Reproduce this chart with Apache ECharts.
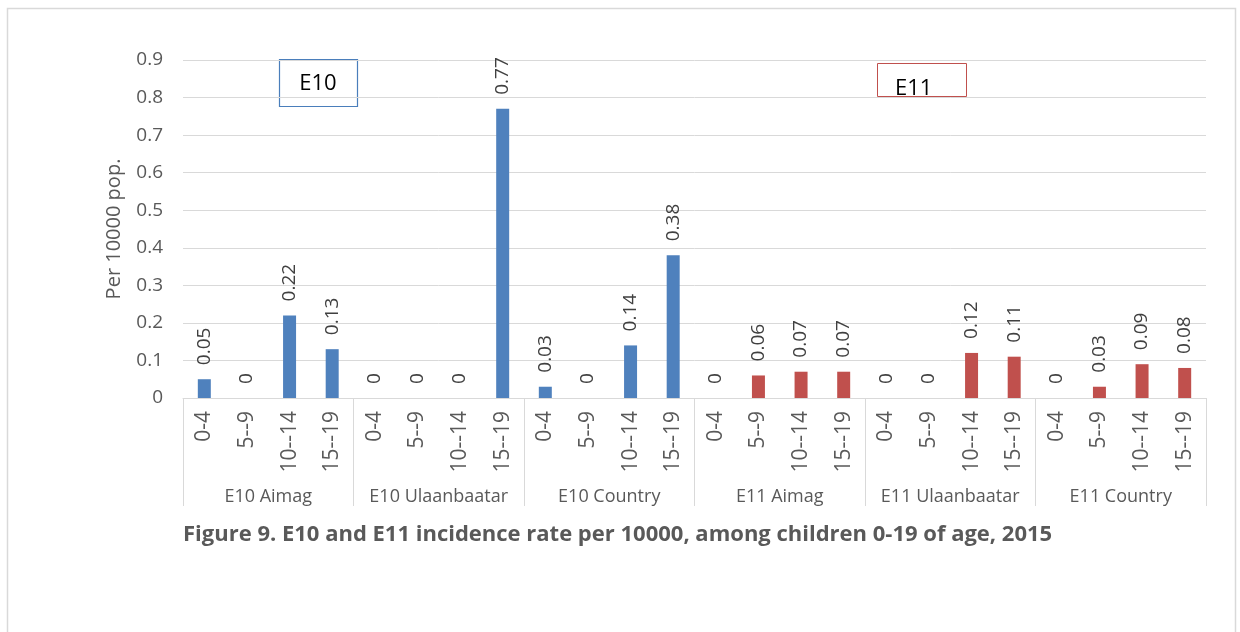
<!DOCTYPE html>
<html>
<head>
<meta charset="utf-8">
<style>
  html, body { margin: 0; padding: 0; background: #fff; }
  #chart { width: 1240px; height: 632px; }
</style>
<script src="https://cdn.jsdelivr.net/npm/echarts@6/dist/echarts.min.js"></script>
</head>
<body>
<div id="chart"></div>
<script>
// Age bands repeated inside every region group
const ageBands = ['0-4', '5--9', '10--14', '15--19'];
const groups = ['E10 Aimag', 'E10 Ulaanbaatar', 'E10 Country', 'E11 Aimag', 'E11 Ulaanbaatar', 'E11 Country'];

// Incidence per 10000 population, by age band
const e10Aimag = [0.05, 0, 0.22, 0.13];
const e10Ulaanbaatar = [0, 0, 0, 0.77];
const e10Country = [0.03, 0, 0.14, 0.38];
const e11Aimag = [0, 0.06, 0.07, 0.07];
const e11Ulaanbaatar = [0, 0, 0.12, 0.11];
const e11Country = [0, 0.03, 0.09, 0.08];

const yTicks = { min: 0, max: 0.9, step: 0.1 };

const FONT = '"Open Sans", Lato, sans-serif';
const TEXT = '#595959';
const GRID = '#d9d9d9';

// Flattened category axis: each group contributes its four age bands
const categories = [];
groups.forEach(() => ageBands.forEach(a => categories.push(a)));

const e10Values = [...e10Aimag, ...e10Ulaanbaatar, ...e10Country];
const e11Values = [...e11Aimag, ...e11Ulaanbaatar, ...e11Country];
const pad = new Array(12).fill(null);
const e10Series = [...e10Values, ...pad];
const e11Series = [...pad, ...e11Values];

const valueLabel = {
  show: true,
  position: 'top',
  rotate: 90,
  distance: 14,
  align: 'left',
  verticalAlign: 'middle',
  color: '#404040',
  fontSize: 19,
  fontFamily: FONT,
  formatter: p => String(p.value)
};

const chart = echarts.init(document.getElementById('chart'));
chart.setOption({
  animation: false,
  backgroundColor: '#fff',
  grid: { left: 183, right: 34, top: 60, bottom: 234, containLabel: false },
  xAxis: [
    {
      type: 'category',
      data: categories,
      position: 'bottom',
      axisLine: { show: true, lineStyle: { color: GRID, width: 1 } },
      axisTick: { show: false },
      axisLabel: {
        interval: 0, rotate: 90, margin: 13,
        color: TEXT, fontSize: 21, fontFamily: FONT
      }
    },
    {
      type: 'category',
      data: groups,
      position: 'bottom',
      offset: 0,
      axisLine: { show: false },
      axisTick: { show: true, interval: 0, length: 108, lineStyle: { color: GRID, width: 1 } },
      axisLabel: {
        interval: 0, margin: 90,
        color: TEXT, fontSize: 18, fontFamily: FONT
      }
    }
  ],
  yAxis: {
    type: 'value',
    min: yTicks.min,
    max: yTicks.max,
    interval: yTicks.step,
    name: 'Per 10000 pop.',
    nameLocation: 'middle',
    nameGap: 59,
    nameTextStyle: { color: TEXT, fontSize: 20, fontFamily: FONT },
    axisLine: { show: false },
    axisTick: { show: false },
    axisLabel: {
      margin: 20, color: TEXT, fontSize: 19, fontFamily: FONT,
      formatter: v => (Math.round(v * 10) / 10).toString()
    },
    splitLine: { lineStyle: { color: GRID, width: 1 } }
  },
  series: [
    {
      name: 'E10',
      type: 'bar',
      xAxisIndex: 0,
      data: e10Series,
      barWidth: 13,
      barGap: '-100%',
      itemStyle: { color: '#4f81bd' },
      label: valueLabel
    },
    {
      name: 'E11',
      type: 'bar',
      xAxisIndex: 0,
      data: e11Series,
      barWidth: 13,
      barGap: '-100%',
      itemStyle: { color: '#c0504d' },
      label: valueLabel
    }
  ],
  graphic: [
    {
      type: 'rect', silent: true, z: -10,
      shape: { x: 7.5, y: 8.5, width: 1228, height: 700 },
      style: { fill: 'none', stroke: '#d9d9d9', lineWidth: 1.5 }
    },
    {
      type: 'rect', silent: true,
      shape: { x: 279.5, y: 59.5, width: 78, height: 47 },
      style: { fill: '#fff', stroke: '#4a7ebb', lineWidth: 1.2 }
    },
    {
      type: 'text', silent: true,
      style: { x: 318, y: 84, text: 'E10', align: 'center', verticalAlign: 'middle',
               fill: '#000', fontSize: 22, fontFamily: FONT }
    },
    {
      type: 'group', silent: true,
      children: [
        {
          type: 'rect',
          shape: { x: 877.5, y: 63.5, width: 89, height: 33 },
          style: { fill: '#fff', stroke: '#c0504d', lineWidth: 1 }
        },
        {
          type: 'text',
          style: { x: 895, y: 89, text: 'E11', align: 'left', verticalAlign: 'middle',
                   fill: '#000', fontSize: 22, fontFamily: FONT }
        }
      ]
    },
    {
      type: 'text', silent: true,
      style: { x: 183, y: 535, text: 'Figure 9. E10 and E11 incidence rate per 10000, among children 0-19 of age, 2015',
               align: 'left', verticalAlign: 'middle',
               fill: '#595959', fontSize: 22, fontWeight: 'bold', fontFamily: FONT }
    }
  ]
});
</script>
</body>
</html>
